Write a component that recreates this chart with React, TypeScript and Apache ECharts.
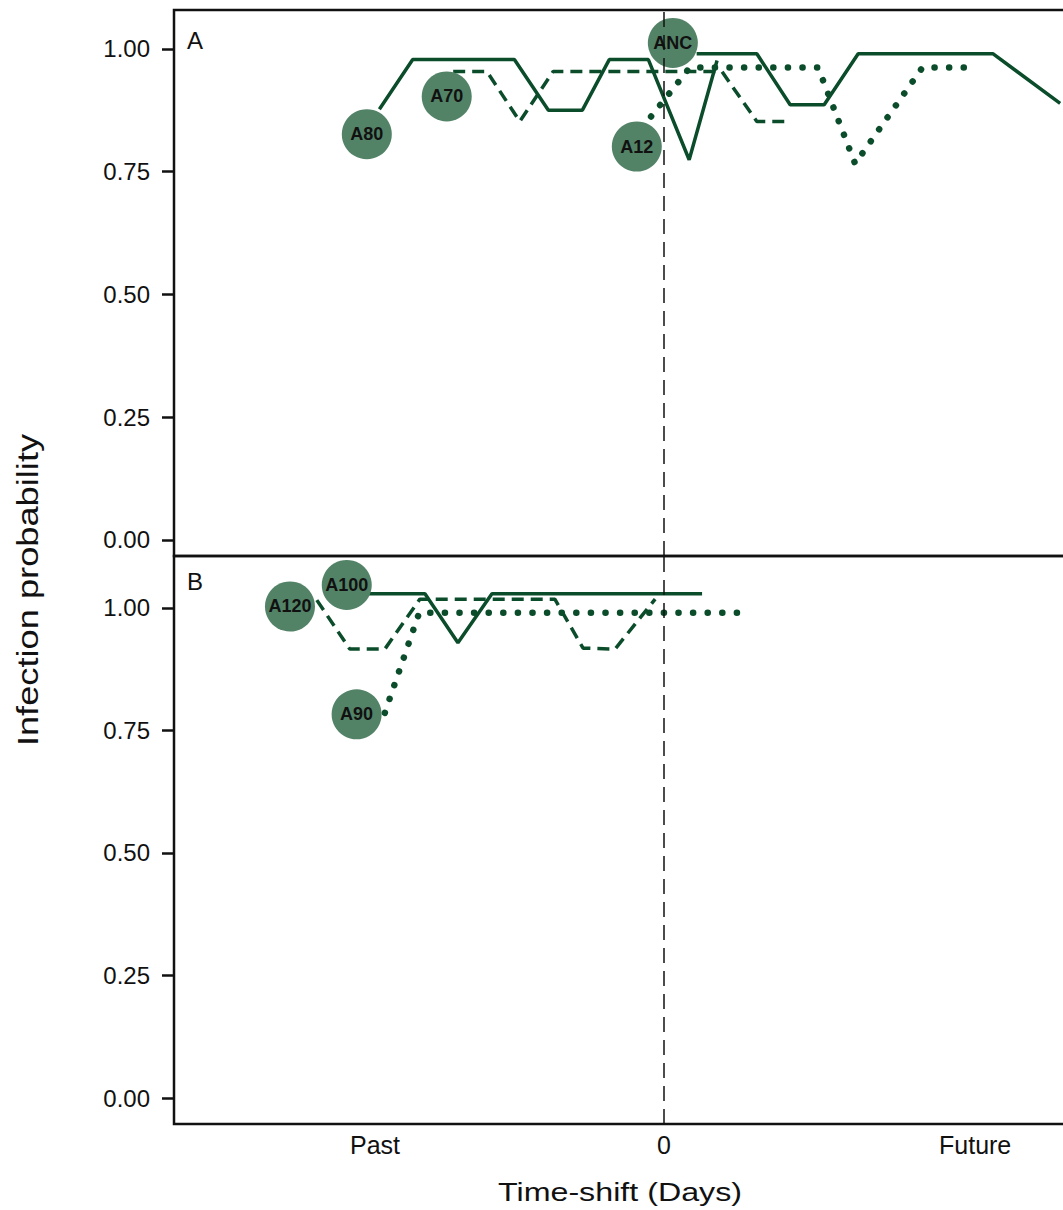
import React, { useEffect, useRef } from "react";
import * as echarts from "echarts";

// ---- axis ticks ----
const xTickValues = [-8.5, 0, 9.15];
const xTickLabels = ["Past", "0", "Future"];
const yTickValues = [0, 0.25, 0.5, 0.75, 1];

// ---- Panel A series: [time-shift (days), infection probability] ----
const a80 = [
  [-8.37, 0.877], [-7.39, 0.978], [-4.4, 0.978], [-3.4, 0.875], [-2.4, 0.875],
  [-1.61, 0.978], [-0.46, 0.978], [0.74, 0.774], [1.56, 0.976],
];
const a70 = [
  [-6.2, 0.954], [-5.21, 0.954], [-4.24, 0.852], [-3.26, 0.954], [1.7, 0.954],
  [2.73, 0.852], [3.71, 0.852],
];
const a12 = [
  [-0.38, 0.862], [0.76, 0.962], [4.53, 0.962], [5.62, 0.766], [7.6, 0.962], [9.24, 0.962],
];
const anc = [
  [0.96, 0.99], [2.73, 0.99], [3.71, 0.886], [4.71, 0.886], [5.71, 0.99],
  [9.67, 0.99], [11.65, 0.889],
];
const labelsA = [
  { name: "A80", value: [-8.74, 0.826] },
  { name: "A70", value: [-6.39, 0.903] },
  { name: "A12", value: [-0.8, 0.801] },
  { name: "ANC", value: [0.26, 1.012] },
];

// ---- Panel B series ----
const a100 = [
  [-9.03, 1.029], [-7.03, 1.029], [-6.06, 0.929], [-5.06, 1.029], [1.12, 1.029],
];
const a120 = [
  [-10.21, 1.016], [-9.24, 0.916], [-8.21, 0.916], [-7.18, 1.018], [-3.21, 1.018],
  [-2.38, 0.918], [-1.44, 0.916], [-0.26, 1.018],
];
const a90 = [
  [-8.21, 0.786], [-7.2, 0.99], [2.24, 0.99],
];
const labelsB = [
  { name: "A120", value: [-11.0, 1.003] },
  { name: "A100", value: [-9.33, 1.047] },
  { name: "A90", value: [-9.04, 0.783] },
];

// axis ranges
const xMin = -14.41;
const xMax = 12.91;
const yRangeA = [-0.033, 1.079];
const yRangeB = [-0.053, 1.106];

const FONT = "'Liberation Sans', Arial, Helvetica, sans-serif";
const LINE = "#0b4d2b";
const CIRCLE = "#538367";
const INK = "#111111";

function lineSeries(data: number[][], kind: "solid" | "dashed" | "dotted", idx: number) {
  const lineStyle: any = { color: LINE, width: 3.5 };
  if (kind === "dashed") {
    lineStyle.type = [12, 7];
  } else if (kind === "dotted") {
    lineStyle.type = [0.1, 14.5];
    lineStyle.width = 6.5;
    lineStyle.cap = "round";
  }
  return {
    type: "line",
    xAxisIndex: idx,
    yAxisIndex: idx,
    data,
    showSymbol: false,
    symbol: "none",
    silent: true,
    z: 2,
    lineStyle,
  };
}

function labelSeries(data: any[], idx: number) {
  return {
    type: "scatter",
    xAxisIndex: idx,
    yAxisIndex: idx,
    data,
    symbol: "circle",
    symbolSize: 50,
    silent: true,
    z: 3,
    itemStyle: { color: CIRCLE, opacity: 1 },
    label: {
      show: true,
      position: "inside",
      formatter: "{b}",
      fontSize: 18,
      fontWeight: "bold",
      color: INK,
      fontFamily: FONT,
    },
  };
}

function zeroLine(range: number[], idx: number) {
  return {
    type: "line",
    xAxisIndex: idx,
    yAxisIndex: idx,
    data: [[0, range[0]], [0, range[1]]],
    showSymbol: false,
    symbol: "none",
    silent: true,
    z: 5,
    lineStyle: { color: INK, width: 1.5, type: [15, 8] },
  };
}

function yAxis(range: number[], idx: number) {
  return {
    type: "value",
    gridIndex: idx,
    position: "left",
    min: range[0],
    max: range[1],
    axisLine: { show: false, onZero: false },
    splitLine: { show: false },
    axisTick: {
      show: true,
      length: 12,
      customValues: yTickValues,
      lineStyle: { color: INK, width: 2.5 },
    },
    axisLabel: {
      show: true,
      customValues: yTickValues,
      formatter: (v: number) => v.toFixed(2),
      fontSize: 24,
      color: INK,
      margin: 24,
      fontFamily: FONT,
    },
  };
}

function xAxis(idx: number, showLabels: boolean) {
  return {
    type: "value",
    gridIndex: idx,
    position: "bottom",
    min: xMin,
    max: xMax,
    axisLine: { show: false, onZero: false },
    axisTick: { show: false },
    splitLine: { show: false },
    axisLabel: {
      show: showLabels,
      customValues: xTickValues,
      formatter: (v: number) => {
        const i = xTickValues.findIndex((t) => Math.abs(t - v) < 1e-6);
        return i >= 0 ? xTickLabels[i] : "";
      },
      fontSize: 25,
      color: INK,
      margin: 8,
      fontFamily: FONT,
    },
  };
}

export default function App() {
  const ref = useRef<HTMLDivElement>(null);

  useEffect(() => {
    if (!ref.current) return;
    const chart = echarts.init(ref.current, undefined, { renderer: "svg" });
    const gridBase = {
      show: true,
      left: 174,
      right: 7,
      borderColor: INK,
      borderWidth: 2.5,
      backgroundColor: "transparent",
      containLabel: false,
    };
    chart.setOption({
      animation: false,
      backgroundColor: "#ffffff",
      textStyle: { fontFamily: FONT },
      grid: [
        { ...gridBase, top: 10, height: 546 },
        { ...gridBase, top: 556, height: 568 },
      ],
      xAxis: [xAxis(0, false), xAxis(1, true)],
      yAxis: [yAxis(yRangeA, 0), yAxis(yRangeB, 1)],
      series: [
        lineSeries(a80, "solid", 0),
        lineSeries(a70, "dashed", 0),
        lineSeries(a12, "dotted", 0),
        lineSeries(anc, "solid", 0),
        labelSeries(labelsA, 0),
        zeroLine(yRangeA, 0),
        lineSeries(a100, "solid", 1),
        lineSeries(a120, "dashed", 1),
        lineSeries(a90, "dotted", 1),
        labelSeries(labelsB, 1),
        zeroLine(yRangeB, 1),
      ],
      graphic: [
        {
          type: "text",
          x: 187,
          y: 40,
          style: { text: "A", fontSize: 24, fill: INK, textVerticalAlign: "middle", fontFamily: FONT },
        },
        {
          type: "text",
          x: 187,
          y: 581,
          style: { text: "B", fontSize: 24, fill: INK, textVerticalAlign: "middle", fontFamily: FONT },
        },
        {
          type: "text",
          x: 620,
          y: 1192,
          scaleX: 1.24,
          style: {
            text: "Time-shift (Days)",
            fontSize: 26,
            fill: INK,
            textAlign: "center",
            textVerticalAlign: "middle",
            fontFamily: FONT,
          },
        },
        {
          type: "text",
          x: 28,
          y: 590,
          rotation: Math.PI / 2,
          scaleX: 1.25,
          style: {
            text: "Infection probability",
            fontSize: 29,
            fill: INK,
            textAlign: "center",
            textVerticalAlign: "middle",
            fontFamily: FONT,
          },
        },
      ],
    });
    return () => chart.dispose();
  }, []);

  return (
    <div
      style={{
        position: "absolute",
        left: 0,
        top: 0,
        width: 1063,
        height: 1210,
        overflow: "hidden",
        background: "#ffffff",
      }}
    >
      <div ref={ref} style={{ width: 1110, height: 1210 }} />
    </div>
  );
}
